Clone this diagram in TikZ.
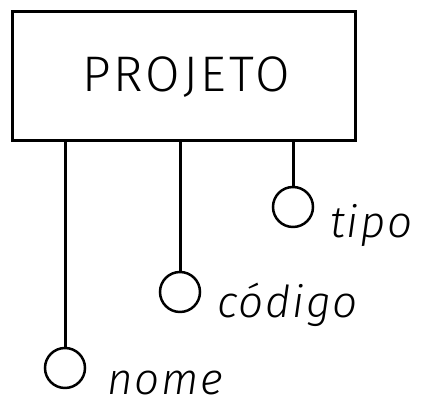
\documentclass[tikz,border=0pt]{standalone}
\usepackage{fontspec}
\setmainfont{Fira Sans Light}
\begin{document}
\begin{tikzpicture}[x=1pt,y=1pt,
  ent/.style={draw,line width=3pt,minimum width=343pt,minimum height=129pt,inner sep=0pt},
  attr/.style={draw,circle,line width=2.5pt,minimum size=40pt,inner sep=0pt},
  conn/.style={line width=3pt},
  lab/.style={anchor=base west,inner sep=0pt,font=\fontsize{44}{48}\selectfont\itshape\addfontfeatures{LetterSpace=4}}]
\useasboundingbox (0,0) rectangle (432,414);
\node[ent] (proj) at (183.5,337.5) {};
\node[inner sep=0pt,font=\fontsize{50}{54}\selectfont\addfontfeatures{LetterSpace=6}] (ptxt) at (186,336.5) {PROJETO};
\node[attr] (cnome) at (65,46) {};
\node[attr] (ccod) at (180,122) {};
\node[attr] (ctipo) at (293,207) {};
\coordinate (pnome) at (65,273);
\coordinate (pcod) at (180,273);
\coordinate (ptipo) at (293,273);
\draw[conn] (pnome) -- (cnome.north);
\draw[conn] (pcod) -- (ccod.north);
\draw[conn] (ptipo) -- (ctipo.north);
\node[lab] (lnome) at (107,19) {nome};
\node[lab] (lcod) at (217,96) {código};
\node[lab] (ltipo) at (330,176) {tipo};
\end{tikzpicture}
\end{document}
